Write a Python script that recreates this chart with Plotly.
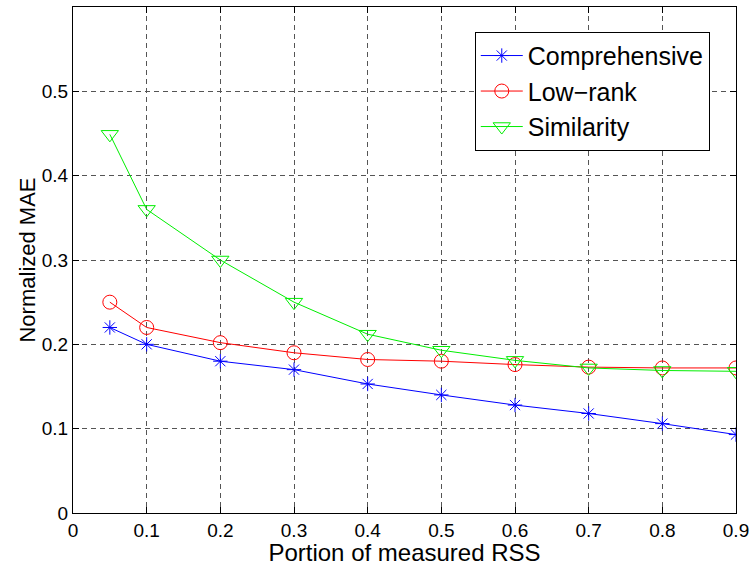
import plotly.graph_objects as go

x = [0.05, 0.1, 0.2, 0.3, 0.4, 0.5, 0.6, 0.7, 0.8, 0.9]
comprehensive = [0.22, 0.20, 0.18, 0.17, 0.153, 0.14, 0.128, 0.118, 0.106, 0.093]
low_rank = [0.25, 0.22, 0.202, 0.19, 0.182, 0.18, 0.176, 0.173, 0.172, 0.172]
similarity = [0.449, 0.36, 0.30, 0.25, 0.212, 0.193, 0.181, 0.172, 0.169, 0.168]

x_ticks = [0, 0.1, 0.2, 0.3, 0.4, 0.5, 0.6, 0.7, 0.8, 0.9]
x_labels = ["0", "0.1", "0.2", "0.3", "0.4", "0.5", "0.6", "0.7", "0.8", "0.9"]
y_ticks = [0, 0.1, 0.2, 0.3, 0.4, 0.5]
y_labels = ["0", "0.1", "0.2", "0.3", "0.4", "0.5"]

fig = go.Figure()
fig.add_trace(go.Scatter(x=x, y=comprehensive, name="Comprehensive", mode="lines+markers",
                         line=dict(color="#0000ff", width=1),
                         marker=dict(symbol="asterisk-open", size=12, color="#0000ff",
                                     line=dict(color="#0000ff", width=1))))
fig.add_trace(go.Scatter(x=x, y=low_rank, name="Low\u2212rank", mode="lines+markers",
                         line=dict(color="#ff0000", width=1),
                         marker=dict(symbol="circle-open", size=14, color="#ff0000",
                                     line=dict(color="#ff0000", width=1))))
fig.add_trace(go.Scatter(x=x, y=similarity, name="Similarity", mode="lines+markers",
                         line=dict(color="#00ee00", width=1),
                         marker=dict(symbol="triangle-down-open", size=15, color="#00ee00",
                                     line=dict(color="#00ee00", width=1))))

font = "Liberation Sans, Arial, Helvetica, sans-serif"
axis_common = dict(showline=True, linecolor="black", linewidth=1, mirror="ticks",
                   ticks="inside", ticklen=6, tickcolor="black",
                   showgrid=True, gridcolor="#555555", gridwidth=1, griddash="5px,4px",
                   zeroline=False, tickfont=dict(size=19, color="black", family=font))

fig.update_xaxes(range=[0, 0.9], tickvals=x_ticks, ticktext=x_labels,
                 title=dict(text="Portion of measured RSS", font=dict(size=24, color="black", family=font), standoff=0),
                 **axis_common)
fig.update_yaxes(range=[0, 0.6], tickvals=y_ticks, ticktext=y_labels,
                 title=dict(text="Normalized MAE", font=dict(size=22, color="black", family=font), standoff=0),
                 **axis_common)

fig.update_layout(
    width=755, height=566,
    margin=dict(l=73, r=14, t=6, b=53),
    paper_bgcolor="white", plot_bgcolor="white",
    font=dict(family=font, color="black"),
    legend=dict(x=0.606, y=0.951, xanchor="left", yanchor="top",
                bgcolor="white", bordercolor="black", borderwidth=1,
                font=dict(size=25, color="black", family=font),
                itemwidth=42, tracegroupgap=0),
    showlegend=True,
)

fig.write_html("out.html", config={"displayModeBar": False},
               post_script="document.body.style.margin='0';document.body.style.overflow='hidden';")
